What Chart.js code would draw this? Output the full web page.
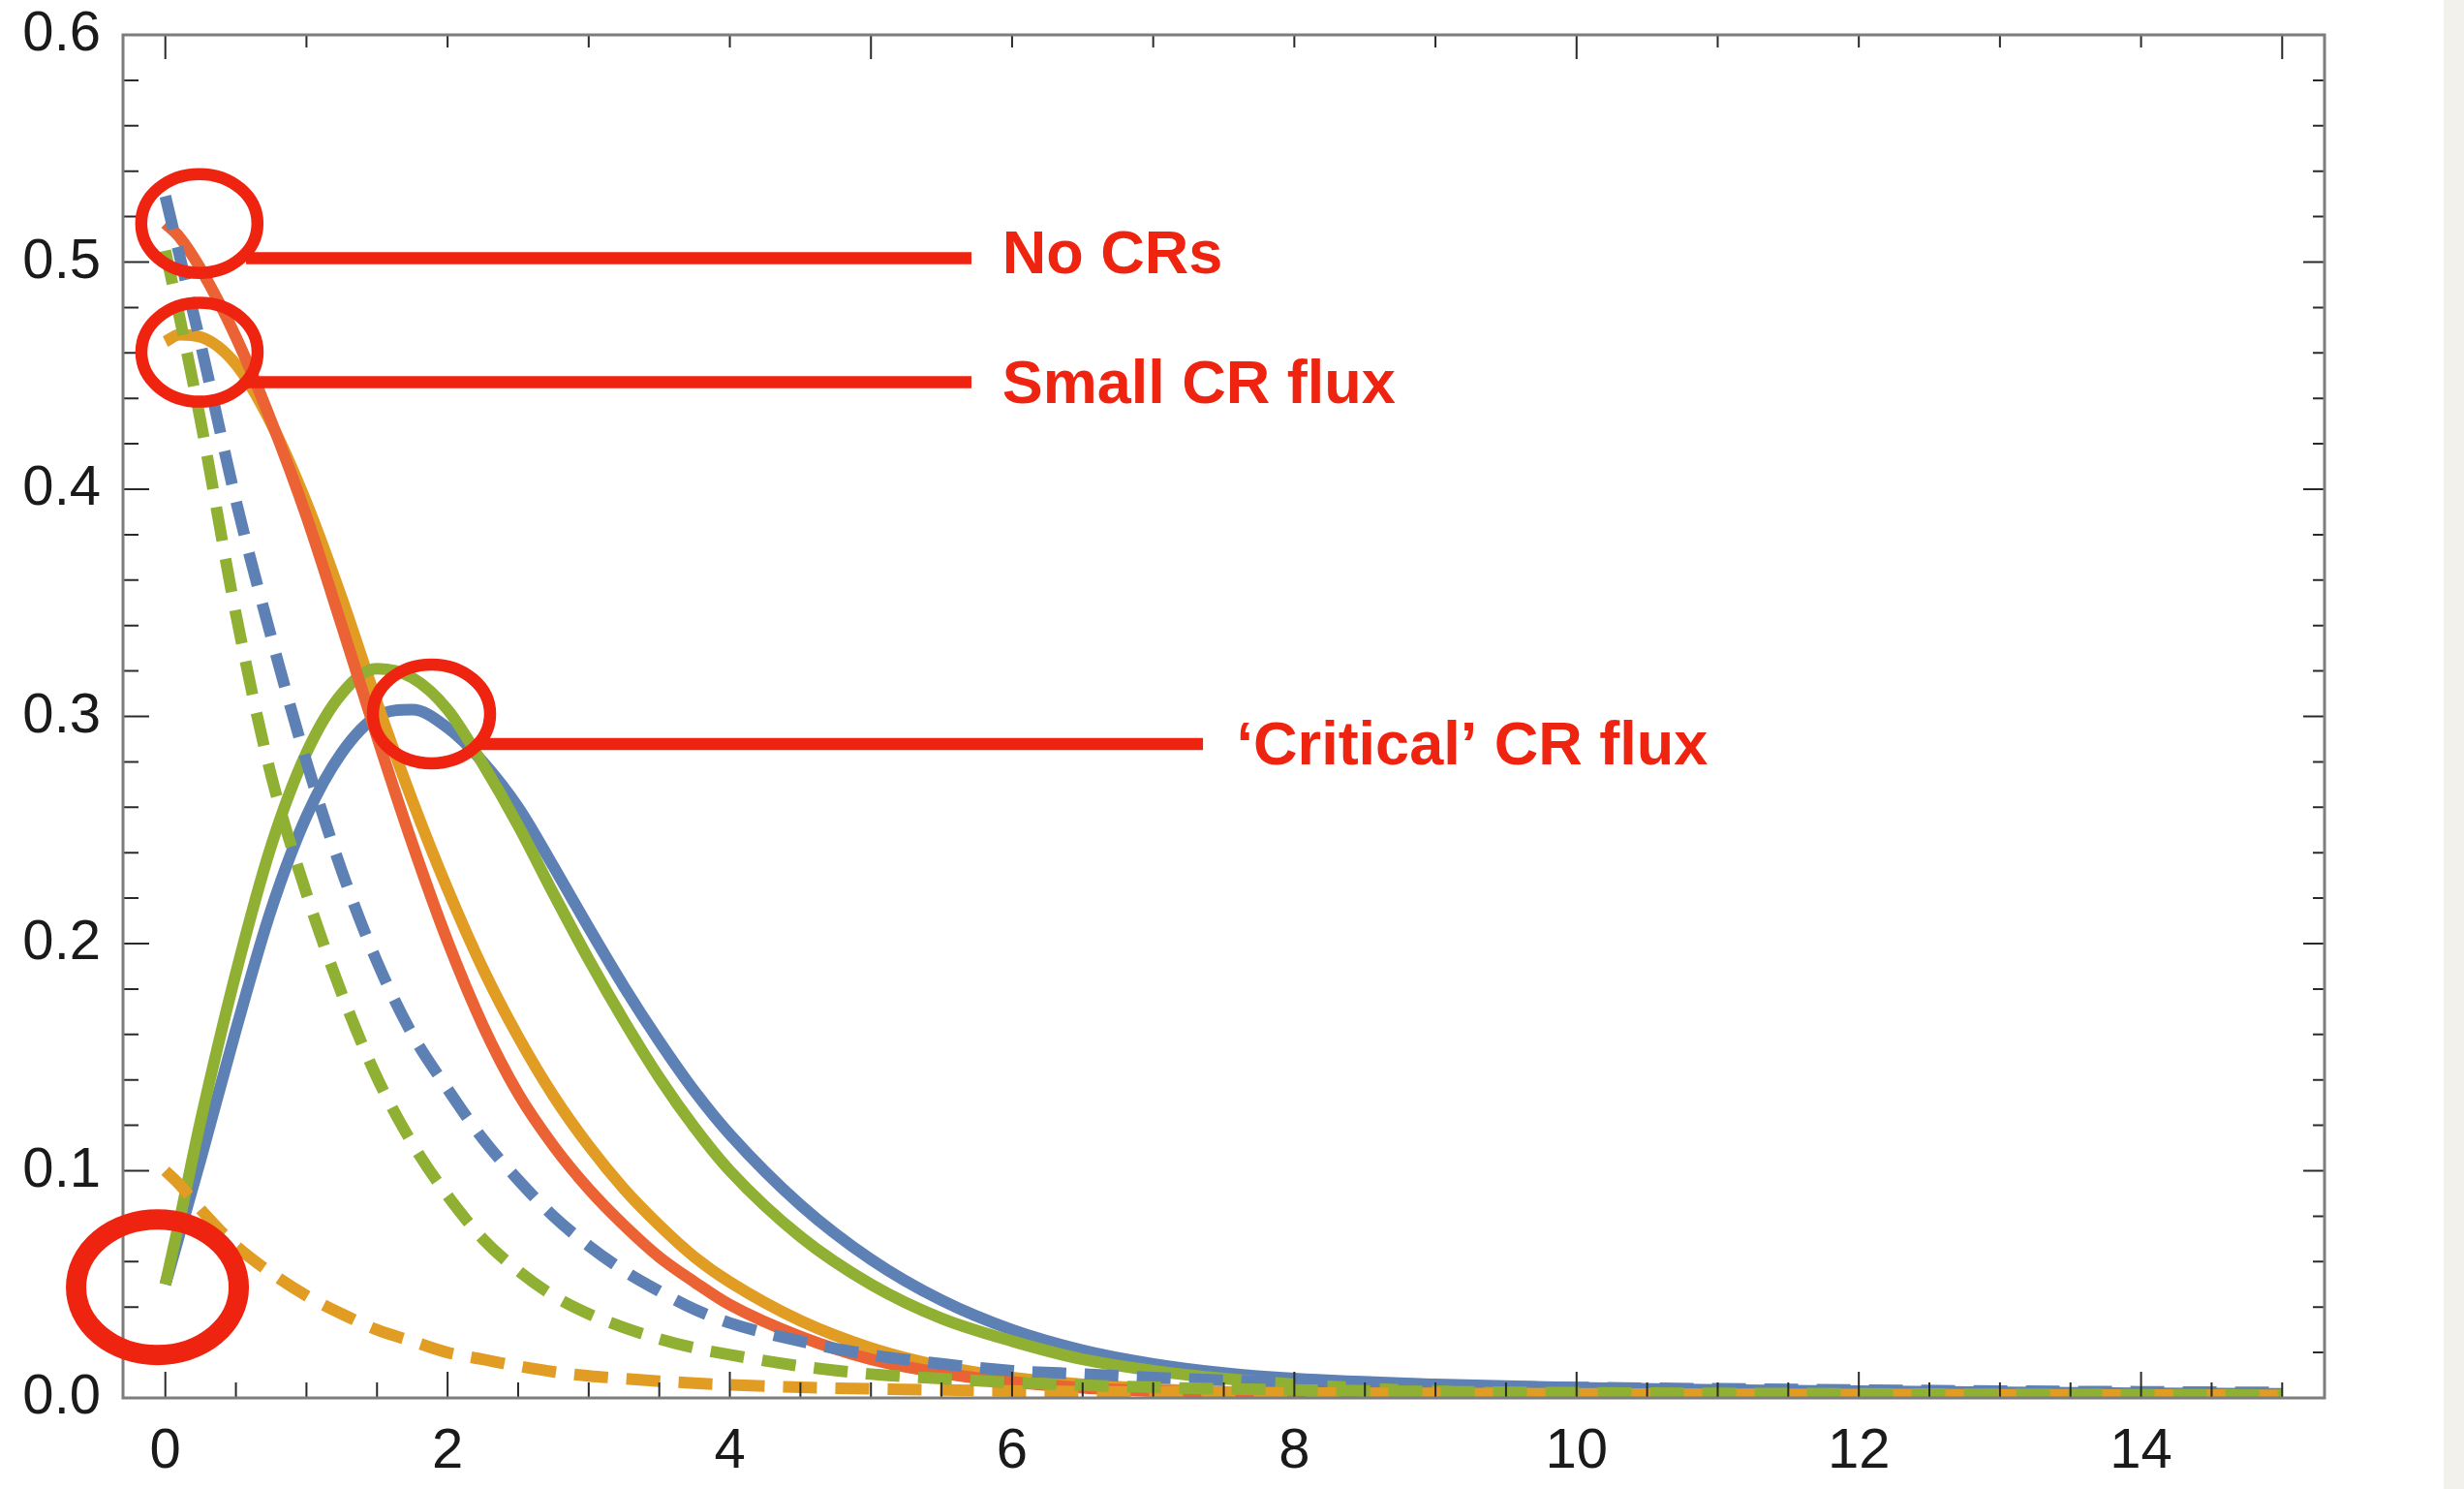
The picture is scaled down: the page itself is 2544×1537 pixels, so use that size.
<!DOCTYPE html>
<html>
<head>
<meta charset="utf-8">
<title>CR flux distributions</title>
<script src="https://cdn.jsdelivr.net/npm/chart.js@4.4.1/dist/chart.umd.min.js"></script>
<style>
  html, body { margin: 0; padding: 0; background: #fff; overflow: hidden; }
  #wrap { position: relative; width: 2544px; height: 1537px; }
  #strip { position: absolute; top: 0; right: 0; width: 21px; height: 1537px; background: #f3f1ec; }
</style>
</head>
<body>
<div id="wrap">
  <canvas id="crChart" width="2544" height="1537"></canvas>
  <div id="strip"></div>
</div>
<script>
// Sample positions along the x axis
const xValues = [0, 0.1, 0.25, 0.5, 0.75, 1, 1.25, 1.5, 1.75, 2, 2.25, 2.5, 2.75, 3, 3.25, 3.5, 3.75, 4,
	4.5, 5, 5.5, 6, 6.5, 7, 7.5, 8, 9, 10, 11, 12, 13, 14, 15];

// Solid curves
const solidBlue = [0.050, 0.072, 0.105, 0.162, 0.215, 0.256, 0.284, 0.300, 0.303, 0.295, 0.280, 0.260, 0.234, 0.207, 0.181, 0.157, 0.135, 0.116,
	0.085, 0.061, 0.043, 0.030, 0.021, 0.015, 0.011, 0.0085, 0.006, 0.0045, 0.0035, 0.003, 0.0025, 0.002, 0.0018];
const solidOrange = [0.465, 0.468, 0.467, 0.455, 0.429, 0.394, 0.352, 0.306, 0.263, 0.224, 0.189, 0.159, 0.133, 0.111, 0.092, 0.076, 0.062, 0.051,
	0.034, 0.022, 0.014, 0.009, 0.006, 0.004, 0.0027, 0.0018, 0.0008, 0.0004, 0.0002, 0.0001, 0.0001, 0, 0];
const solidGreen = [0.050, 0.078, 0.122, 0.187, 0.243, 0.284, 0.310, 0.321, 0.317, 0.303, 0.279, 0.252, 0.222, 0.193, 0.166, 0.141, 0.119, 0.100,
	0.071, 0.050, 0.035, 0.025, 0.017, 0.012, 0.0085, 0.006, 0.003, 0.0015, 0.0008, 0.0004, 0.0002, 0.0001, 0.0001];
const solidRed = [0.517, 0.511, 0.497, 0.467, 0.430, 0.388, 0.340, 0.291, 0.244, 0.201, 0.164, 0.134, 0.111, 0.092, 0.076, 0.062, 0.051, 0.041,
	0.027, 0.017, 0.011, 0.007, 0.0045, 0.003, 0.002, 0.0013, 0.0006, 0.0003, 0.0002, 0.0001, 0.0001, 0, 0];

// Dashed curves
const dashedBlue = [0.529, 0.503, 0.464, 0.395, 0.335, 0.280, 0.232, 0.192, 0.160, 0.136, 0.114, 0.096, 0.080, 0.067, 0.056, 0.047, 0.039, 0.033,
	0.025, 0.019, 0.015, 0.012, 0.0105, 0.009, 0.0078, 0.0068, 0.0055, 0.0046, 0.004, 0.0035, 0.003, 0.0027, 0.0024];
const dashedGreen = [0.505, 0.476, 0.430, 0.345, 0.274, 0.222, 0.178, 0.141, 0.112, 0.089, 0.070, 0.056, 0.045, 0.037, 0.031, 0.026, 0.022, 0.019,
	0.014, 0.0105, 0.0085, 0.0068, 0.0056, 0.0047, 0.004, 0.0035, 0.0028, 0.0023, 0.002, 0.0018, 0.0016, 0.0014, 0.0013];
const dashedOrange = [0.100, 0.094, 0.083, 0.067, 0.055, 0.045, 0.037, 0.030, 0.025, 0.020, 0.017, 0.014, 0.0115, 0.0097, 0.0085, 0.0074, 0.0065, 0.0058,
	0.0047, 0.004, 0.0035, 0.0031, 0.0028, 0.0026, 0.0024, 0.0022, 0.002, 0.0018, 0.0016, 0.0015, 0.0014, 0.0013, 0.0012];

// Tick labels
const xTickLabels = [0, 2, 4, 6, 8, 10, 12, 14];
const yTickLabels = [0, 0.1, 0.2, 0.3, 0.4, 0.5, 0.6];

// Callouts (data coordinates)
const callouts = [
	{ cx: 0.241, cy: 0.517, rx: 60, ry: 51, width: 12.5, line: [0.572, 5.712, 0.5017], text: 'No CRs', tx: 5.93, ty: 0.4951 },
	{ cx: 0.242, cy: 0.4603, rx: 60, ry: 51, width: 12.5, line: [0.572, 5.712, 0.4471], text: 'Small CR flux', tx: 5.93, ty: 0.438 },
	{ cx: 1.886, cy: 0.3011, rx: 60.5, ry: 51, width: 12.5, line: [2.212, 7.353, 0.2878], text: '\u2018Critical\u2019 CR flux', tx: 7.59, ty: 0.2789 },
	{ cx: -0.056, cy: 0.0487, rx: 84, ry: 70, width: 21 }
];

const BLUE = '#5E81B5';
const ORANGE = '#E19C24';
const GREEN = '#8FB032';
const RED = '#EB6235';
const NOTE_RED = '#EE2310';
const DASH = [35, 19];

function points(series) {
	return xValues.map((x, i) => ({ x: x, y: series[i] }));
}

function curve(series, color, dashed, order) {
	return {
		data: points(series),
		borderColor: color,
		borderWidth: 12,
		borderDash: dashed ? DASH : [],
		borderCapStyle: 'butt',
		borderJoinStyle: 'round',
		pointRadius: 0,
		fill: false,
		cubicInterpolationMode: 'monotone',
		order: order,
	};
}

// Inward ticks on all four sides plus the grey frame
const frameTicks = {
	id: 'frameTicks',
	afterDatasetsDraw(chart) {
		const { ctx, chartArea: a, scales: { x, y } } = chart;
		ctx.save();
		ctx.strokeStyle = '#2a2a2a';
		ctx.lineWidth = 2;
		ctx.beginPath();
		const mark = (x1, y1, x2, y2) => {
			ctx.moveTo(x1, y1);
			ctx.lineTo(x2, y2);
		};
		// bottom: major every 2, minor every 0.5
		for (let v = 0; v <= 15; v += 0.5) {
			const p = x.getPixelForValue(v);
			const len = v % 2 === 0 ? 27 : 16;
			mark(p, a.bottom, p, a.bottom - len);
		}
		// top: major every 5, minor every 1
		for (let v = 0; v <= 15; v += 1) {
			const p = x.getPixelForValue(v);
			const len = v % 5 === 0 ? 25 : 13;
			mark(p, a.top, p, a.top + len);
		}
		// left and right: major every 0.1, minor every 0.02
		for (let i = 0; i <= 30; i++) {
			const p = y.getPixelForValue(i * 0.02);
			const major = i % 5 === 0;
			mark(a.left, p, a.left + (major ? 27 : 16), p);
			mark(a.right, p, a.right - (major ? 22 : 12), p);
		}
		ctx.stroke();
		ctx.strokeStyle = '#7d7d7d';
		ctx.lineWidth = 3;
		ctx.strokeRect(a.left, a.top, a.right - a.left, a.bottom - a.top);
		ctx.restore();
	},
};

// Red circles, pointer lines and labels
const calloutPlugin = {
	id: 'callouts',
	afterDraw(chart) {
		const { ctx, scales: { x, y } } = chart;
		ctx.save();
		ctx.strokeStyle = NOTE_RED;
		ctx.fillStyle = NOTE_RED;
		callouts.forEach((c) => {
			ctx.lineWidth = c.width;
			ctx.beginPath();
			ctx.ellipse(x.getPixelForValue(c.cx), y.getPixelForValue(c.cy), c.rx, c.ry, 0, 0, Math.PI * 2);
			ctx.stroke();
			if (c.line) {
				const ly = y.getPixelForValue(c.line[2]);
				ctx.lineWidth = 12.5;
				ctx.beginPath();
				ctx.moveTo(x.getPixelForValue(c.line[0]), ly);
				ctx.lineTo(x.getPixelForValue(c.line[1]), ly);
				ctx.stroke();
			}
			if (c.text) {
				ctx.font = 'bold 63px "Liberation Sans", Arial, sans-serif';
				ctx.textAlign = 'left';
				ctx.textBaseline = 'alphabetic';
				ctx.fillText(c.text, x.getPixelForValue(c.tx), y.getPixelForValue(c.ty));
			}
		});
		ctx.restore();
	},
};

const tickFont = { family: '"Liberation Sans", Arial, sans-serif', size: 58 };

const chart = new Chart(document.getElementById('crChart').getContext('2d'), {
	type: 'line',
	data: {
		datasets: [
			curve(solidBlue, BLUE, false, 7),
			curve(solidOrange, ORANGE, false, 6),
			curve(solidGreen, GREEN, false, 5),
			curve(solidRed, RED, false, 4),
			curve(dashedBlue, BLUE, true, 3),
			curve(dashedOrange, ORANGE, true, 2),
			curve(dashedGreen, GREEN, true, 1),
		],
	},
	options: {
		responsive: false,
		animation: false,
		layout: { padding: { left: 0, right: 144, top: 36, bottom: 0 } },
		plugins: {
			legend: { display: false },
			tooltip: { enabled: false },
		},
		scales: {
			x: {
				type: 'linear',
				min: -0.3,
				max: 15.3,
				bounds: 'data',
				grid: { display: false, drawTicks: false },
				border: { display: false },
				afterBuildTicks: (s) => {
					s.ticks = xTickLabels.map((v) => ({ value: v }));
				},
				afterFit: (s) => {
					s.height = 94;
					s.paddingLeft = 0;
					s.paddingRight = 0;
				},
				ticks: {
					padding: 21,
					font: tickFont,
					color: '#1a1a1a',
					maxRotation: 0,
					autoSkip: false,
					callback: (v) => String(v),
				},
			},
			y: {
				type: 'linear',
				min: 0,
				max: 0.6,
				bounds: 'data',
				grid: { display: false, drawTicks: false },
				border: { display: false },
				afterBuildTicks: (s) => {
					s.ticks = yTickLabels.map((v) => ({ value: v }));
				},
				afterFit: (s) => {
					s.width = 127;
					s.paddingTop = 0;
					s.paddingBottom = 0;
				},
				ticks: {
					padding: 23,
					font: tickFont,
					color: '#1a1a1a',
					autoSkip: false,
					callback: (v) => v.toFixed(1),
				},
			},
		},
	},
	plugins: [frameTicks, calloutPlugin],
});
</script>
</body>
</html>
